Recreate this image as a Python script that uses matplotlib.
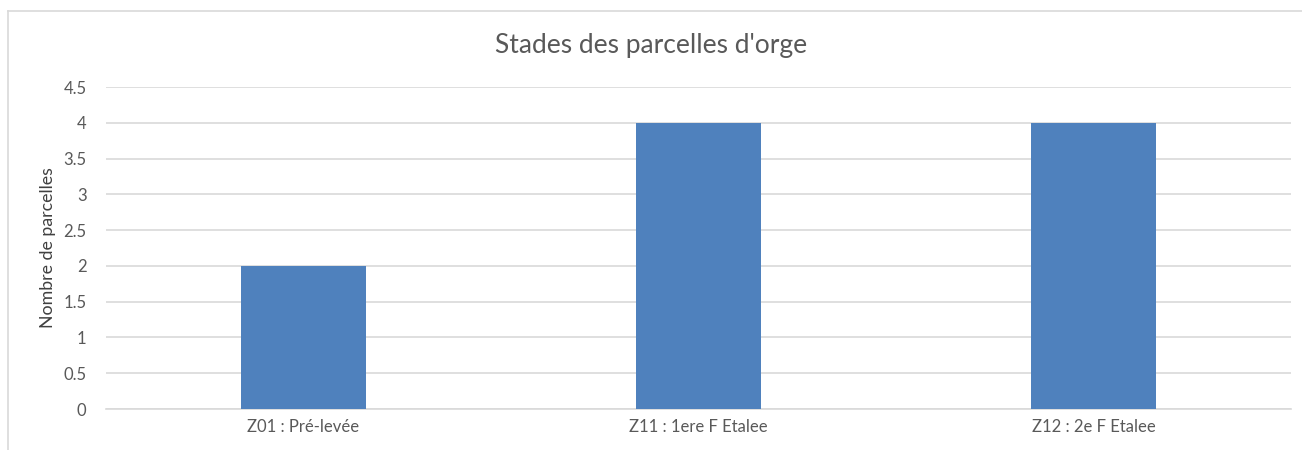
import matplotlib.pyplot as plt
from matplotlib.lines import Line2D

categories = ["Z01 : Pré-levée", "Z11 : 1ere F Etalee", "Z12 : 2e F Etalee"]
counts = [2, 4, 4]
yticks = [0, 0.5, 1, 1.5, 2, 2.5, 3, 3.5, 4, 4.5]

plt.rcParams['font.family'] = ['Lato', 'DejaVu Sans']

W, H = 1302, 450
fig = plt.figure(figsize=(W / 100, H / 100), dpi=100)
ax = fig.add_axes([106 / W, 1 - 409 / H, (1291 - 106) / W, (409 - 87) / H])

x = range(len(categories))
ax.bar(x, counts, width=0.315, color="#4F81BD", zorder=3)
ax.set_xlim(-0.5, 2.5)
ax.set_ylim(0, 4.5)
ax.set_yticks(yticks)
ax.set_yticklabels([f"{v:g}" for v in yticks])
ax.set_xticks(list(x))
ax.set_xticklabels(categories)
ax.yaxis.grid(True, color="#D9D9D9", linewidth=1.2, zorder=0)
for s in ["top", "right", "left"]:
    ax.spines[s].set_visible(False)
ax.spines["bottom"].set_color("#D9D9D9")
ax.spines["bottom"].set_linewidth(1.2)
ax.tick_params(axis="both", length=0, colors="#595959", labelsize=12)
ax.tick_params(axis="y", pad=14)
ax.tick_params(axis="x", pad=7)
ax.set_ylabel("Nombre de parcelles", color="#404040", fontsize=12.8, labelpad=5)

fig.text(0.5, 1 - 46 / H, "Stades des parcelles d'orge", ha="center", va="center",
         fontsize=19, color="#595959")

# chart frame (cut off on the right and bottom)
fig.add_artist(Line2D([8 / W, 8 / W], [0, 1 - 11 / H], color="#D9D9D9", linewidth=1.2))
fig.add_artist(Line2D([8 / W, 1], [1 - 11 / H, 1 - 11 / H], color="#D9D9D9", linewidth=1.2))

fig.savefig("out.png", dpi=100)
